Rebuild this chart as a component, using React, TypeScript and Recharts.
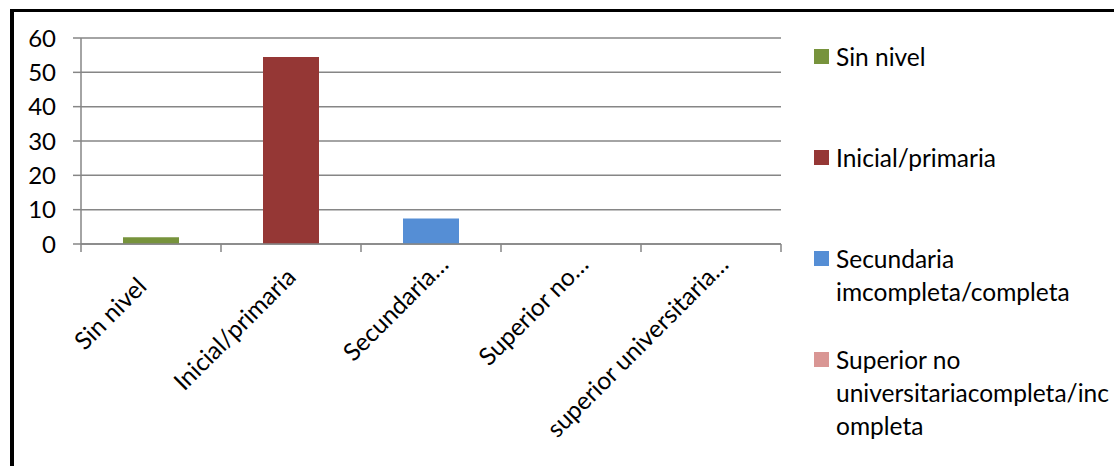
import React from "react";
import { BarChart, Bar, XAxis, YAxis, CartesianGrid, Cell } from "recharts";

// Education level categories and their values
const categories = [
  "Sin nivel",
  "Inicial/primaria",
  "Secundaria imcompleta/completa",
  "Superior no universitariacompleta/incompleta",
  "superior universitaria completa/incompleta",
];
const tickLabels = ["Sin nivel", "Inicial/primaria", "Secundaria…", "Superior no…", "superior universitaria…"];
const values = [2, 54.5, 7.4, 0, 0];
const barColors = ["#77933C", "#953735", "#558ED5", "#D99694", "#B3A2C7"];
const yTicks = [0, 10, 20, 30, 40, 50, 60];
// Legend entries as they wrap in the legend column
const legendLines = [
  ["Sin nivel"],
  ["Inicial/primaria"],
  ["Secundaria", "imcompleta/completa"],
  ["Superior no", "universitariacompleta/inc", "ompleta"],
];

const data = categories.map((name, i) => ({ name, label: tickLabels[i], value: values[i] }));

const FONT = "Lato, 'Open Sans', sans-serif";
const AXIS_GRAY = "#868686";
// slide of the short (untruncated) category labels back along their slant
const labelSlide = [-31, -18, 0, 0, 0];

const XTick = (props: any) => {
  const { x, y, payload, index } = props;
  const half = payload && payload.offset ? payload.offset : 70;
  const last = index === data.length - 1;
  const s = labelSlide[index] || 0;
  const ax = x + 19 + s * Math.SQRT1_2;
  const ay = y + 22 - s * Math.SQRT1_2;
  return (
    <g>
      <line x1={x - half} x2={x - half} y1={y} y2={y + 8} stroke={AXIS_GRAY} strokeWidth={1.5} />
      {last && <line x1={x + half} x2={x + half} y1={y} y2={y + 8} stroke={AXIS_GRAY} strokeWidth={1.5} />}
      <text
        transform={`translate(${ax},${ay}) rotate(-45)`}
        textAnchor="end"
        fontFamily={FONT}
        fontSize={24.5}
        fill="#000"
      >
        {tickLabels[index]}
      </text>
    </g>
  );
};

const LegendBox = () => (
  <div
    style={{
      position: "absolute",
      left: 814,
      top: 40,
      width: 300,
      height: 426,
      overflow: "hidden",
      fontFamily: FONT,
      fontSize: 24.5,
      color: "#000",
    }}
  >
    {legendLines.map((lines, i) => (
      <div key={i} style={{ position: "absolute", left: 0, top: i * 101, display: "flex", alignItems: "flex-start" }}>
        <div style={{ width: 15, height: 15, marginTop: 9, background: barColors[i], flex: "none" }} />
        <div style={{ marginLeft: 7, lineHeight: "33px", whiteSpace: "nowrap" }}>
          {lines.map((t, j) => (
            <div key={j}>{t}</div>
          ))}
        </div>
      </div>
    ))}
  </div>
);

export default function App() {
  return (
    <div style={{ position: "fixed", left: 0, top: 0, width: 1114, height: 466, overflow: "hidden", background: "#fff" }}>
      <div
        style={{
          position: "absolute",
          left: 10,
          top: 9,
          width: 1300,
          height: 700,
          borderLeft: "4px solid #000",
          borderTop: "3px solid #000",
        }}
      />
      <div style={{ position: "absolute", left: 0, top: 0 }}>
        <BarChart
          width={1114}
          height={466}
          data={data}
          margin={{ top: 38, right: 333, left: 21, bottom: 162 }}
        >
          <CartesianGrid vertical={false} stroke={AXIS_GRAY} strokeWidth={1.5} />
          <XAxis
            dataKey="name"
            height={60}
            interval={0}
            tickLine={false}
            tickSize={0}
            tickMargin={0}
            axisLine={{ stroke: AXIS_GRAY, strokeWidth: 1.5 }}
            tick={<XTick />}
          />
          <YAxis
            width={60}
            domain={[0, 60]}
            ticks={yTicks}
            interval={0}
            tickSize={8}
            tickMargin={17}
            tickLine={{ stroke: AXIS_GRAY, strokeWidth: 1.5 }}
            axisLine={{ stroke: AXIS_GRAY, strokeWidth: 1.5 }}
            tick={{ fill: "#000", fontSize: 24, fontFamily: FONT }}
          />
          <Bar dataKey="value" barSize={56} isAnimationActive={false}>
            {data.map((d, i) => (
              <Cell key={d.name} fill={barColors[i]} />
            ))}
          </Bar>
        </BarChart>
      </div>
      <LegendBox />
    </div>
  );
}
